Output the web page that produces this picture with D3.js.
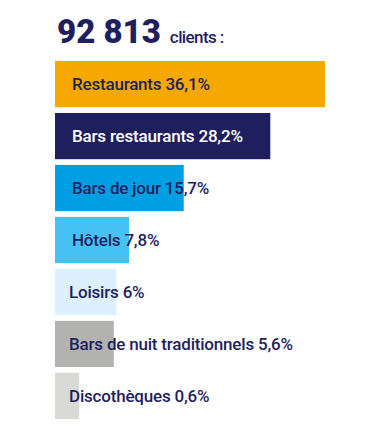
<!DOCTYPE html>
<html>
<head>
<meta charset="utf-8">
<script src="https://cdn.jsdelivr.net/npm/d3@7"></script>
<style>
  body { margin: 0; background: #fff; }
  text { font-family: Roboto, "Liberation Sans", sans-serif; }
</style>
</head>
<body>
<div class="svg-container"></div>
<script>
// data
var total = "92 813";
var totalLabel = "clients :";
var categories = ["Restaurants", "Bars restaurants", "Bars de jour", "Hôtels", "Loisirs",
                  "Bars de nuit traditionnels", "Discothèques"];
var shares = [36.1, 28.2, 15.7, 7.8, 6, 5.6, 0.6];
var shareLabels = ["36,1%", "28,2%", "15,7%", "7,8%", "6%", "5,6%", "0,6%"];
var barColors = ["#f7a800", "#1f1f5e", "#009fe3", "#45c2f2", "#ddf0fd", "#b2b3b1", "#d9dad6"];
var textColors = ["#1f1f5e", "#ffffff", "#1f1f5e", "#1f1f5e", "#1f1f5e", "#1f1f5e", "#1f1f5e"];

var fullWidth = 380,
    fullHeight = 427,
    left = 55;

var svg = d3.select(".svg-container")
    .append("svg")
    .attr("width", fullWidth)
    .attr("height", fullHeight);

// title
var title = svg.append("text")
    .attr("x", left + 2)
    .attr("y", 43)
    .attr("fill", "#1f1f5e");
title.append("tspan")
    .attr("font-size", 33)
    .attr("font-weight", 900)
    .text(total);
title.append("tspan")
    .attr("dx", 9)
    .attr("font-size", 17)
    .attr("font-weight", 500)
    .attr("letter-spacing", -0.6)
    .text(totalLabel);

// scales (bars keep a small minimum length)
var x = d3.scaleLinear()
    .domain([0, d3.max(shares)])
    .range([left + 20, left + 270]);

var y = d3.scaleBand()
    .domain(categories)
    .range([61, 419])
    .paddingInner(0.11)
    .paddingOuter(0);

var rows = svg.selectAll("g.row")
    .data(categories)
    .enter()
    .append("g")
    .attr("class", "row");

rows.append("rect")
    .attr("x", left)
    .attr("y", d => y(d))
    .attr("width", (d, i) => x(shares[i]) - left)
    .attr("height", y.bandwidth())
    .attr("fill", (d, i) => barColors[i]);

rows.append("text")
    .attr("x", (d, i) => i < 4 ? 72 : 69)
    .attr("y", d => y(d) + y.bandwidth() / 2 + 6)
    .attr("font-size", 17)
    .attr("font-weight", 500)
    .attr("letter-spacing", -0.2)
    .attr("fill", (d, i) => textColors[i])
    .text((d, i) => d + " " + shareLabels[i]);
</script>
</body>
</html>
